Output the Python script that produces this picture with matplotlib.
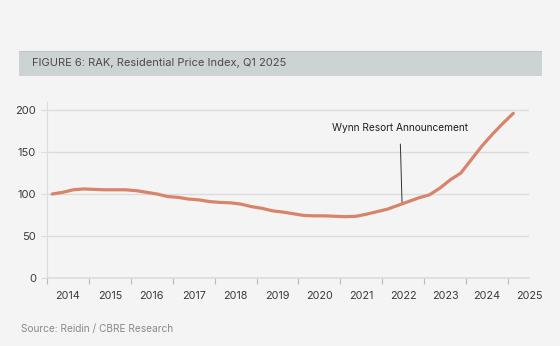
import numpy as np
import matplotlib.pyplot as plt
from matplotlib.ticker import FixedLocator, NullFormatter, FixedFormatter

plt.rcParams['font.family'] = ['Inter', 'DejaVu Sans']

# Quarterly residential price index, Q1 2014 .. Q1 2025
quarters = ['2014Q1', '2014Q2', '2014Q3', '2014Q4',
            '2015Q1', '2015Q2', '2015Q3', '2015Q4',
            '2016Q1', '2016Q2', '2016Q3', '2016Q4',
            '2017Q1', '2017Q2', '2017Q3', '2017Q4',
            '2018Q1', '2018Q2', '2018Q3', '2018Q4',
            '2019Q1', '2019Q2', '2019Q3', '2019Q4',
            '2020Q1', '2020Q2', '2020Q3', '2020Q4',
            '2021Q1', '2021Q2', '2021Q3', '2021Q4',
            '2022Q1', '2022Q2', '2022Q3', '2022Q4',
            '2023Q1', '2023Q2', '2023Q3', '2023Q4',
            '2024Q1', '2024Q2', '2024Q3', '2024Q4',
            '2025Q1']
index_values = [100, 102, 105, 106,
                105.5, 105, 105, 105,
                104, 102, 100, 97,
                96, 94, 93, 91,
                90, 89.5, 88, 85,
                83, 80, 78.5, 76.5,
                74.5, 74, 74, 73.5,
                73, 73.5, 76, 79,
                82, 86.5, 91, 95.5,
                99, 107, 117, 125,
                141, 157, 171, 184,
                196]
years = list(range(2014, 2026))
year_labels = [str(y) for y in years]

# quarter midpoints as decimal years
xq = [int(q[:4]) + (int(q[-1]) - 1) * 0.25 + 0.125 for q in quarters]

bg = '#f4f4f4'
grid_c = '#dcdcdc'
line_c = '#d8836a'
text_c = '#3a3a3a'

fig = plt.figure(figsize=(5.6, 3.46), dpi=100, facecolor=bg)

# title band
fig.patches.append(plt.Rectangle((19 / 560, 1 - 76 / 346), (542 - 19) / 560, 25 / 346,
                                 transform=fig.transFigure, facecolor='#cdd2d2',
                                 edgecolor='none', zorder=0))
fig.patches.append(plt.Rectangle((19 / 560, 1 - 52 / 346), (542 - 19) / 560, 1.2 / 346,
                                 transform=fig.transFigure, facecolor='#bfc4c4',
                                 edgecolor='none', zorder=0))
fig.text(32 / 560, 1 - 63.5 / 346, 'FIGURE 6: RAK, Residential Price Index, Q1 2025',
         fontsize=8, color='#4a4a4a', va='center', ha='left')

ax = fig.add_axes([47 / 560, 0.1965, (529 - 47) / 560, 0.7064 - 0.1965])
ax.set_facecolor(bg)

ax.plot(xq, index_values, color=line_c, lw=2.3, solid_capstyle='round', zorder=3)

ax.set_xlim(2014, 2025.5)
ax.set_ylim(0, 210)

ax.set_yticks([0, 50, 100, 150, 200])
ax.yaxis.grid(True, color=grid_c, lw=1)
ax.set_axisbelow(True)

ax.xaxis.set_major_locator(FixedLocator(years))
ax.xaxis.set_major_formatter(NullFormatter())
ax.xaxis.set_minor_locator(FixedLocator([y + 0.5 for y in years]))
ax.xaxis.set_minor_formatter(FixedFormatter(year_labels))
ax.tick_params(axis='x', which='major', length=4, width=0.8, color='#bbbbbb')
ax.tick_params(axis='x', which='minor', length=0, pad=9, labelsize=7.8, labelcolor=text_c)
ax.tick_params(axis='y', length=4, width=0.8, color=grid_c, pad=4,
               labelsize=8, labelcolor=text_c)

for s in ['top', 'right']:
    ax.spines[s].set_visible(False)
ax.spines['left'].set_color(grid_c)
ax.spines['bottom'].set_color(grid_c)
ax.spines['bottom'].set_linewidth(1.2)

# annotation
ax.annotate('Wynn Resort Announcement', xy=(2022.47, 90.5), xytext=(2022.42, 178.6),
            ha='center', va='center', fontsize=7.3, color='#222222',
            arrowprops=dict(arrowstyle='-', color='#333333', lw=0.7,
                            shrinkA=6, shrinkB=0))

fig.text(21 / 560, 1 - 329 / 346, 'Source: Reidin / CBRE Research',
         fontsize=7.3, color='#8a8a8a', va='center', ha='left')

fig.savefig('out.png', dpi=100, facecolor=bg)
